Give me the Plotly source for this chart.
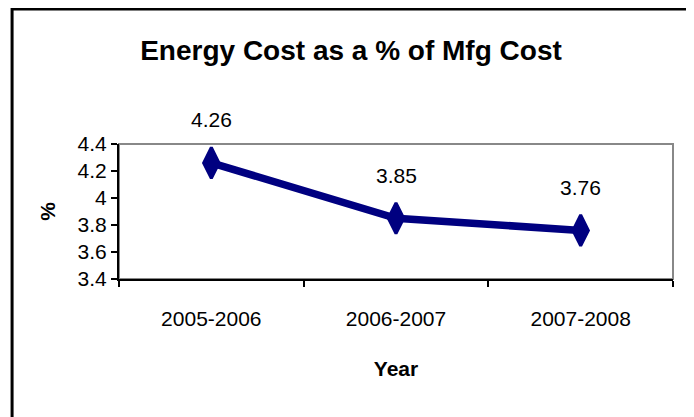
import plotly.graph_objects as go

years = ["2005-2006", "2006-2007", "2007-2008"]
values = [4.26, 3.85, 3.76]
labels = ["4.26", "3.85", "3.76"]
y_ticks = [3.4, 3.6, 3.8, 4.0, 4.2, 4.4]
y_ticktext = ["3.4", "3.6", "3.8", "4", "4.2", "4.4"]

FONT = "Liberation Sans Narrow, Arial Narrow, Liberation Sans, Arial, sans-serif"
NAVY = "#000080"

fig = go.Figure()
fig.add_trace(go.Scatter(
    x=years, y=values, mode="lines+markers",
    line=dict(color=NAVY, width=7.5),
    marker=dict(symbol="diamond-tall", size=22, color=NAVY,
                line=dict(color=NAVY, width=3)),
    showlegend=False, hoverinfo="skip",
))

for x, y, t in zip(years, values, labels):
    fig.add_annotation(x=x, y=y, text=t, showarrow=False, yshift=43,
                       font=dict(family=FONT, size=21, color="black"))

# plot frame (gray) and outer chart border (black)
fig.add_shape(type="rect", xref="paper", yref="paper", x0=0, x1=1, y0=0, y1=1,
              line=dict(color="#888888", width=2), layer="below")
fig.add_shape(type="rect", xref="paper", yref="paper",
              x0=-0.193, x1=1.03, y0=-1.06, y1=2.0,
              line=dict(color="black", width=3), layer="below")

W, H = 686, 409
fig.update_layout(
    width=W, height=H,
    margin=dict(l=111, r=21, t=136, b=138),
    paper_bgcolor="white", plot_bgcolor="white",
    title=dict(text="<b>Energy Cost as a % of Mfg Cost</b>", x=0.5, xanchor="center",
               y=1 - 42 / H, yanchor="middle",
               font=dict(family=FONT, size=28, color="black")),
    font=dict(family=FONT, color="black"),
)
fig.update_xaxes(
    type="category", range=[-0.5, 2.5], showline=True, linecolor="black", linewidth=2,
    ticks="outside", tickson="boundaries", ticklen=6, tickcolor="black", tickwidth=1.5,
    tickfont=dict(family=FONT, size=21, color="black"), ticklabelstandoff=20,
    showgrid=False, zeroline=False,
    title=dict(text="<b>Year</b>", font=dict(family=FONT, size=21, color="black"), standoff=32),
)
fig.update_yaxes(
    range=[3.4, 4.4], tickvals=y_ticks, ticktext=y_ticktext,
    showline=True, linecolor="black", linewidth=2,
    ticks="outside", ticklen=6, tickcolor="black", tickwidth=1.5,
    tickfont=dict(family=FONT, size=21, color="black"),
    showgrid=False, zeroline=False,
    title=dict(text="<b>%</b>", font=dict(family=FONT, size=21, color="black"), standoff=16),
)

fig.write_html("out.html")
